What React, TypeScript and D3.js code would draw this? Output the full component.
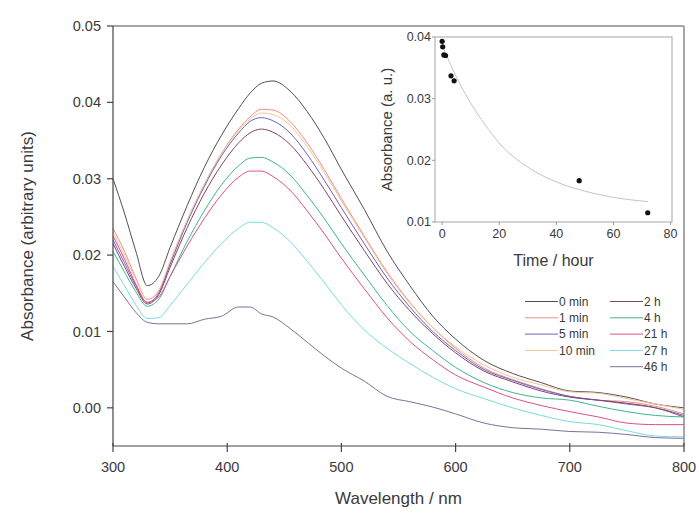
import React from "react";
import * as d3 from "d3";

const WL = [300, 310, 320, 330, 340, 350, 365, 380, 395, 410, 420, 430, 440, 455, 470, 485, 500, 520, 540, 560, 580, 600, 625, 650, 675, 700, 725, 750, 775, 800];

const SERIES_NAMES = ["0 min", "1 min", "5 min", "10 min", "2 h", "4 h", "21 h", "27 h", "46 h"];
const SERIES_COLORS = ["#505050", "#ee8c80", "#6464c8", "#f3c49a", "#844468", "#3fb48f", "#de4f86", "#7ad8e6", "#7c7296"];

const A_0MIN = [0.0300, 0.0255, 0.0205, 0.0160, 0.0172, 0.0210, 0.0265, 0.0315, 0.0357, 0.0392, 0.0412, 0.0425, 0.0428, 0.0415, 0.0388, 0.0353, 0.0312, 0.0260, 0.0205, 0.0160, 0.0120, 0.0090, 0.0062, 0.0045, 0.0033, 0.0022, 0.0020, 0.0014, 0.0005, 0.0000];
const A_1MIN = [0.0235, 0.0205, 0.0170, 0.0142, 0.0152, 0.0190, 0.0245, 0.0292, 0.0333, 0.0365, 0.0381, 0.0391, 0.0390, 0.0375, 0.0347, 0.0312, 0.0274, 0.0225, 0.0178, 0.0138, 0.0105, 0.0078, 0.0052, 0.0037, 0.0025, 0.0015, 0.0010, 0.0008, 0.0002, -0.0008];
const A_5MIN = [0.0220, 0.0190, 0.0160, 0.0138, 0.0150, 0.0188, 0.0243, 0.0290, 0.0330, 0.0360, 0.0375, 0.0380, 0.0376, 0.0360, 0.0332, 0.0298, 0.0262, 0.0215, 0.0170, 0.0132, 0.0100, 0.0075, 0.0050, 0.0036, 0.0024, 0.0015, 0.0010, 0.0005, 0.0000, -0.0010];
const A_10MIN = [0.0230, 0.0200, 0.0168, 0.0142, 0.0154, 0.0192, 0.0246, 0.0293, 0.0333, 0.0363, 0.0378, 0.0386, 0.0384, 0.0370, 0.0342, 0.0308, 0.0271, 0.0223, 0.0176, 0.0137, 0.0105, 0.0080, 0.0056, 0.0040, 0.0030, 0.0021, 0.0019, 0.0012, 0.0005, -0.0002];
const A_2H = [0.0215, 0.0185, 0.0157, 0.0136, 0.0148, 0.0184, 0.0236, 0.0281, 0.0318, 0.0347, 0.0360, 0.0365, 0.0361, 0.0345, 0.0318, 0.0286, 0.0251, 0.0206, 0.0163, 0.0127, 0.0097, 0.0072, 0.0048, 0.0034, 0.0022, 0.0014, 0.0010, 0.0006, 0.0000, -0.0012];
const A_4H = [0.0205, 0.0178, 0.0152, 0.0133, 0.0142, 0.0172, 0.0218, 0.0258, 0.0292, 0.0317, 0.0327, 0.0328, 0.0322, 0.0305, 0.0278, 0.0248, 0.0215, 0.0174, 0.0134, 0.0100, 0.0075, 0.0053, 0.0033, 0.0020, 0.0013, 0.0010, 0.0002, -0.0005, -0.0010, -0.0012];
const A_21H = [0.0225, 0.0195, 0.0162, 0.0138, 0.0145, 0.0172, 0.0212, 0.0248, 0.0279, 0.0302, 0.0310, 0.0310, 0.0303, 0.0285, 0.0258, 0.0228, 0.0196, 0.0156, 0.0118, 0.0087, 0.0063, 0.0043, 0.0027, 0.0013, 0.0003, -0.0005, -0.0012, -0.0020, -0.0022, -0.0022];
const A_27H = [0.0185, 0.0160, 0.0135, 0.0117, 0.0118, 0.0134, 0.0162, 0.0190, 0.0215, 0.0235, 0.0243, 0.0243, 0.0236, 0.0218, 0.0192, 0.0164, 0.0135, 0.0102, 0.0078, 0.0058, 0.0040, 0.0025, 0.0012, 0.0000, -0.0010, -0.0018, -0.0022, -0.0030, -0.0037, -0.0038];
const A_46H = [0.0165, 0.0145, 0.0125, 0.0112, 0.0110, 0.0110, 0.0110, 0.0116, 0.0120, 0.0132, 0.0132, 0.0123, 0.0119, 0.0104, 0.0086, 0.0068, 0.0052, 0.0035, 0.0015, 0.0008, 0.0001, -0.0008, -0.0020, -0.0026, -0.0028, -0.0031, -0.0032, -0.0035, -0.0039, -0.0040];

const SERIES = [A_0MIN, A_1MIN, A_5MIN, A_10MIN, A_2H, A_4H, A_21H, A_27H, A_46H];

const X_TICKS = [300, 400, 500, 600, 700, 800];
const Y_TICKS = [0.0, 0.01, 0.02, 0.03, 0.04, 0.05];

// inset
const INSET_T = [0, 0.2, 0.6, 1.2, 3.1, 4.2, 48, 72];
const INSET_A = [0.0393, 0.0384, 0.0371, 0.0370, 0.0337, 0.0329, 0.0167, 0.0115];
const FIT_T = [0, 5, 10, 15, 20, 30, 40, 50, 60, 72];
const FIT_A = [0.0387, 0.0335, 0.0293, 0.0258, 0.0228, 0.0189, 0.0165, 0.0150, 0.0140, 0.0133];
const INSET_X_TICKS = [0, 20, 40, 60, 80];
const INSET_Y_TICKS = [0.01, 0.02, 0.03, 0.04];

const FONT = "'Liberation Sans', Arial, sans-serif";
const TXT = "#3a3a3a";

export default function App() {
  const W = 699, H = 515;
  const L = 113, R = 684, T = 26, B = 446;
  const x = d3.scaleLinear().domain([300, 800]).range([L, R]);
  const y = d3.scaleLinear().domain([-0.005, 0.05]).range([B, T]);
  const line = d3.line<number>().x((_, i) => x(WL[i])).y((d) => y(d)).curve(d3.curveMonotoneX);

  const iL = 435, iR = 672, iT = 37, iB = 222;
  const xi = d3.scaleLinear().domain([-2.5, 80.5]).range([iL, iR]);
  const yi = d3.scaleLinear().domain([0.01, 0.04]).range([iB, iT]);
  const fit = d3.line<number>().x((_, i) => xi(FIT_T[i])).y((d) => yi(d)).curve(d3.curveMonotoneX);

  const fmt = d3.format(".2f");

  const legX = [525, 610];
  const legY0 = 301.5, legDy = 16.3;

  return (
    <svg width={W} height={H} style={{ position: "absolute", left: 0, top: 0, background: "#fff" }} fontFamily={FONT}>
      <rect x={0} y={0} width={W} height={H} fill="#fff" />
      {/* curves */}
      <g>
        {SERIES.map((s, k) => (
          <path key={k} d={line(s) || ""} fill="none" stroke={SERIES_COLORS[k]} strokeWidth={1} />
        ))}
      </g>
      {/* frame */}
      <line x1={L} x2={R} y1={T} y2={T} stroke="#8a8a8a" strokeWidth={1.5} />
      <line x1={R} x2={R} y1={T} y2={B} stroke="#8a8a8a" strokeWidth={1.5} />
      <line x1={L} x2={L} y1={T} y2={B} stroke="#444" strokeWidth={1.2} />
      <line x1={L} x2={R} y1={B} y2={B} stroke="#444" strokeWidth={1.2} />
      {Y_TICKS.map((t) => (
        <g key={t}>
          <line x1={L - 6} x2={L} y1={y(t)} y2={y(t)} stroke="#444" strokeWidth={1.2} />
          <text x={L - 12} y={y(t)} dy="0.35em" textAnchor="end" fontSize={14.5} fill={TXT}>{fmt(t)}</text>
        </g>
      ))}
      {X_TICKS.map((t) => (
        <g key={t}>
          <line x1={x(t)} x2={x(t)} y1={B - 3} y2={B + 6} stroke="#444" strokeWidth={1.2} />
          <text x={x(t)} y={B + 26} textAnchor="middle" fontSize={14.5} fill={TXT}>{t}</text>
        </g>
      ))}
      <text x={(L + R) / 2} y={504} textAnchor="middle" fontSize={17} fill={TXT}>Wavelength / nm</text>
      <text transform={`translate(33,${(T + B) / 2}) rotate(-90)`} textAnchor="middle" fontSize={17} fill={TXT}>Absorbance (arbitrary units)</text>

      {/* inset */}
      <rect x={iL} y={iT} width={iR - iL} height={iB - iT} fill="#fff" stroke="#b4b4b4" strokeWidth={1.2} />
      <path d={fit(FIT_A) || ""} fill="none" stroke="#c4c4c4" strokeWidth={1} />
      {INSET_T.map((t, i) => (
        <circle key={i} cx={xi(t)} cy={yi(INSET_A[i])} r={2.6} fill="#111" />
      ))}
      {INSET_Y_TICKS.map((t) => (
        <g key={t}>
          <line x1={iL - 3} x2={iL} y1={yi(t)} y2={yi(t)} stroke="#999" />
          <text x={iL - 4} y={yi(t)} dy="0.35em" textAnchor="end" fontSize={12.5} fill={TXT}>{fmt(t)}</text>
        </g>
      ))}
      {INSET_X_TICKS.map((t) => (
        <g key={t}>
          <line x1={xi(t)} x2={xi(t)} y1={iB} y2={iB + 3} stroke="#999" />
          <text x={xi(t)} y={iB + 16} textAnchor="middle" fontSize={12.5} fill={TXT}>{t}</text>
        </g>
      ))}
      <text x={(iL + iR) / 2} y={266} textAnchor="middle" fontSize={16} fill={TXT}>Time / hour</text>
      <text transform={`translate(392,${(iT + iB) / 2}) rotate(-90)`} textAnchor="middle" fontSize={15} fill={TXT}>Absorbance (a. u.)</text>

      {/* legend */}
      {SERIES_NAMES.map((n, k) => {
        const col = k < 4 ? 0 : 1;
        const row = k < 4 ? k : k - 4;
        const lx = legX[col];
        const ly = legY0 + row * legDy;
        return (
          <g key={n}>
            <line x1={lx} x2={lx + 33} y1={ly} y2={ly} stroke={SERIES_COLORS[k]} strokeWidth={1} />
            <text x={lx + 34} y={ly} dy="0.35em" fontSize={12} fill={TXT}>{n}</text>
          </g>
        );
      })}
    </svg>
  );
}
